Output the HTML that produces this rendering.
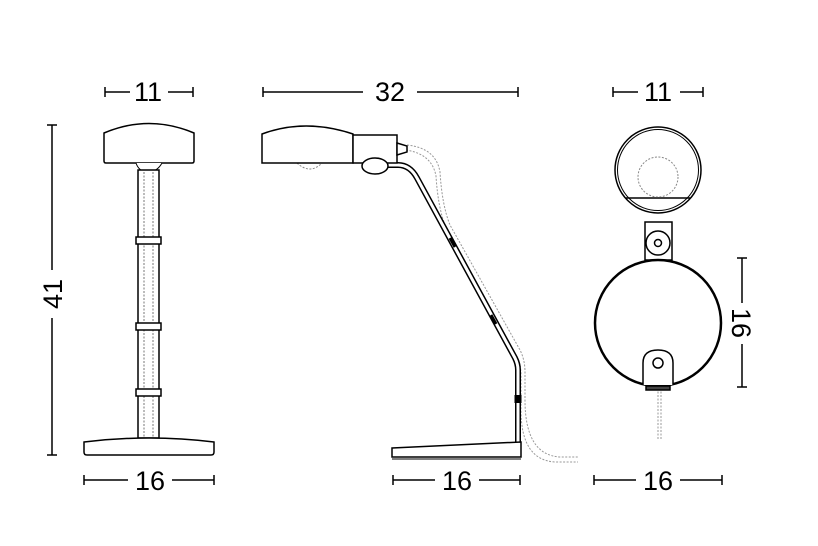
<!DOCTYPE html>
<html><head><meta charset="utf-8"><style>
html,body{margin:0;padding:0;background:#fff;}
svg{display:block}
text{font-family:"Liberation Sans",sans-serif;font-size:27px;fill:#000;}
</style></head><body>
<svg width="818" height="546" viewBox="0 0 818 546" xmlns="http://www.w3.org/2000/svg">
<g stroke="#000" stroke-width="1.5" fill="none">
<path d="M105 87v10M105 92h25M168 92h25M193 87v10"/>
<path d="M47 125h10M52 125v145M52 318v137M47 455h10"/>
<path d="M84 475v10M84 480h44M172 480h42M214 475v10"/>
<path d="M263 87v10M263 92h100M417 92h101M518 87v10"/>
<path d="M393 475v10M393 480h42M479 480h41M520 475v10"/>
<path d="M613 87v10M613 92h25M680 92h23M703 87v10"/>
<path d="M594 475v10M594 480h42M680 480h42M722 475v10"/>
<path d="M737 258h10M742 258v45M742 344v43M737 387h10"/>
</g>
<text x="148" y="101" text-anchor="middle">11</text>
<text x="150" y="490" text-anchor="middle">16</text>
<text transform="translate(62 294) rotate(-90)" text-anchor="middle">41</text>
<text x="390" y="101" text-anchor="middle">32</text>
<text x="457" y="490" text-anchor="middle">16</text>
<text x="658" y="101" text-anchor="middle">11</text>
<text x="658" y="490" text-anchor="middle">16</text>
<text transform="translate(732 323) rotate(90)" text-anchor="middle">16</text>

<!-- front view -->
<g stroke="#000" stroke-width="1.5" fill="#fff">
<path d="M104 133Q149 114 194 133V161Q194 163 192 163H106Q104 163 104 161Z"/>
<path d="M136 163Q139 172 148 172Q157 172 162 163" stroke-width="1"/>
<rect x="138" y="170" width="21" height="268"/>
<path d="M144 172V438M153 172V438" stroke="#777" stroke-dasharray="2 1.5" stroke-width="1"/>
<rect x="136" y="237" width="25" height="7"/>
<rect x="136" y="323" width="25" height="7"/>
<rect x="136" y="389" width="25" height="7"/>
<path d="M84 442Q149 434 214 442V452Q214 455 211 455H87Q84 455 84 452Z"/>
</g>

<!-- side view -->
<g stroke="#000" stroke-width="1.5" fill="#fff">
<path d="M407 145Q436 148 440 172Q442 205 450 225L520 350Q525 360 525 372V400Q525 455 560 457H578M406 150Q432 154 436 176Q438 208 446 228L516 355Q521 364 521 375V410Q521 460 555 462H578" stroke="#999" stroke-dasharray="2 1.5" fill="none" stroke-width="1"/>
<path d="M297 163Q310 175 322 163" stroke="#888" stroke-dasharray="2 1.5" fill="none" stroke-width="1"/>
<path d="M370 165H398Q410 165 417 178L515 358Q518 364 518 370V446" fill="none" stroke-width="6"/>
<path d="M370 165H398Q410 165 417 178L515 358Q518 364 518 370V446" fill="none" stroke="#fff" stroke-width="3"/>
<path d="M450 238l5 9M491 315l5 9" stroke-width="3"/>
<path d="M518 395v8" stroke-width="7"/>
<path d="M262 134Q305 118 353 134V163H262Z"/>
<rect x="353" y="135" width="44" height="28"/>
<path d="M397 143L407 146V152L397 155Z"/>
<ellipse cx="375" cy="166" rx="13" ry="8"/>
<path d="M392 448L521 442V457H392Z"/>
<path d="M392 459H521" stroke-width="1"/>
</g>

<!-- right view -->
<g stroke="#000" stroke-width="1.5" fill="#fff">
<path d="M658 388V440M661 388V440" stroke="#999" stroke-dasharray="2 1.5" fill="none" stroke-width="1"/>
<circle cx="658" cy="170" r="43"/>
<circle cx="658" cy="170" r="40.5" fill="none" stroke-width="1"/>
<path d="M626 198H690" />
<circle cx="658" cy="177" r="20" stroke="#888" stroke-dasharray="2 1.5" stroke-width="1" fill="none"/>
<rect x="645" y="222" width="27" height="38"/>
<circle cx="658" cy="243" r="12"/>
<circle cx="658" cy="243" r="3.5"/>
<circle cx="658" cy="323" r="63" stroke-width="2.5"/>
<path d="M643 385V363Q643 350 658 350Q673 350 673 363V385"/>
<circle cx="658" cy="363" r="5"/>
<rect x="646" y="386" width="24" height="4" fill="#444"/>
</g>
</svg>
</body></html>
